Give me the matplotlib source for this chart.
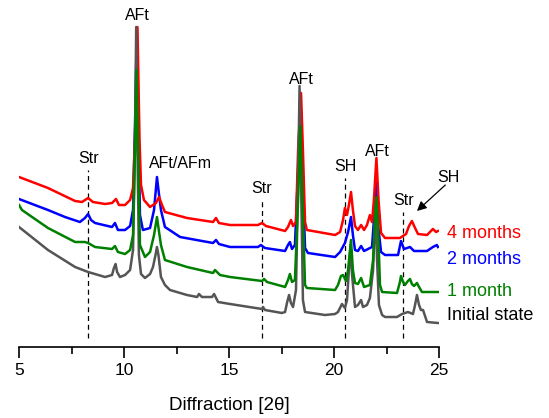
import matplotlib
matplotlib.use("Agg")
import matplotlib.pyplot as plt

plt.rcParams['font.family'] = ['Liberation Sans', 'DejaVu Sans']

# 4 months (red)
red_tt = [5.00, 6.38, 7.67, 8.00, 8.29, 8.52, 9.10, 9.43, 9.62, 9.76, 10.05, 10.29, 10.43, 10.52,
          10.64, 10.74, 10.81, 10.95, 11.24, 11.52, 11.67, 11.81, 11.95, 13.00, 14.24, 14.38, 14.52,
          15.05, 16.38, 16.57, 16.76, 17.67, 17.81, 17.95, 18.05, 18.19, 18.29, 18.43, 18.52, 18.62,
          18.71, 20.05, 20.29, 20.43, 20.52, 20.62, 20.71, 20.81, 20.90, 21.00, 21.14, 21.29, 21.43,
          21.57, 21.71, 21.81, 21.90, 22.02, 22.12, 22.24, 22.43, 23.14, 23.43, 23.57, 23.71, 23.86,
          24.00, 24.43, 24.71, 24.86, 24.95]
red_int = [170, 159, 146, 145, 149, 145, 143, 144, 148, 142, 142, 147, 159, 207,
           320, 207, 162, 147, 140, 144, 150, 142, 135, 129, 125, 129, 124,
           122, 122, 124, 121, 116, 120, 127, 121, 125, 197, 254, 197, 125,
           117, 112, 115, 127, 139, 132, 142, 155, 137, 121, 117, 122, 117,
           122, 132, 125, 147, 189, 147, 114, 109, 109, 113, 121, 126, 119,
           113, 112, 118, 115, 116]

# 2 months (blue)
blue_tt = [5.00, 6.38, 7.19, 7.90, 8.14, 8.29, 8.43, 8.62, 9.43, 9.57, 9.71, 10.05, 10.29, 10.43,
           10.52, 10.61, 10.69, 10.76, 10.90, 11.24, 11.43, 11.57, 11.67, 11.76, 11.95, 12.67, 14.24,
           14.38, 14.52, 15.05, 16.38, 16.52, 16.71, 17.67, 17.81, 17.90, 18.00, 18.14, 18.29, 18.40,
           18.50, 18.62, 18.76, 20.05, 20.29, 20.52, 20.67, 20.81, 20.90, 21.00, 21.14, 21.29, 21.43,
           21.81, 21.90, 22.00, 22.10, 22.24, 22.43, 23.05, 23.19, 23.33, 23.48, 23.62, 23.81, 24.43,
           24.71, 24.90, 24.95]
blue_int = [148, 137, 130, 125, 129, 133, 127, 124, 120, 124, 117, 117, 121, 137,
            217, 317, 217, 132, 117, 119, 137, 170, 152, 137, 120, 110, 104,
            107, 103, 100, 100, 102, 99, 96, 102, 105, 98, 102, 177, 252,
            177, 99, 94, 90, 95, 104, 115, 130, 112, 97, 96, 101, 96,
            100, 127, 164, 122, 95, 92, 92, 106, 98, 99, 100, 96, 96,
            100, 102, 100]

# 1 month (green)
green_tt = [5.00, 5.14, 6.38, 7.67, 8.14, 8.29, 8.62, 9.43, 9.57, 9.71, 10.05, 10.29, 10.43, 10.52,
            10.60, 10.67, 10.76, 11.00, 11.24, 11.43, 11.57, 11.67, 11.76, 11.95, 13.00, 14.24, 14.33,
            14.57, 15.05, 16.57, 16.67, 16.81, 17.67, 17.81, 17.90, 18.00, 18.14, 18.29, 18.40, 18.50,
            18.62, 18.71, 20.05, 20.19, 20.33, 20.43, 20.57, 20.67, 20.81, 20.90, 21.00, 21.14, 21.29,
            21.43, 21.71, 21.86, 21.95, 22.02, 22.10, 22.19, 22.29, 23.00, 23.14, 23.19, 23.29, 23.38,
            23.52, 23.62, 23.71, 23.81, 23.95, 24.05, 24.19, 24.95]
green_int = [142, 137, 119, 105, 105, 104, 100, 98, 101, 95, 93, 97, 112, 197,
             277, 197, 102, 90, 95, 112, 130, 115, 102, 87, 80, 74, 77,
             72, 70, 66, 68, 65, 60, 67, 73, 65, 67, 147, 221, 147,
             62, 59, 57, 62, 71, 72, 66, 77, 107, 77, 64, 63, 69,
             60, 62, 87, 127, 150, 117, 62, 55, 54, 65, 71, 65, 62,
             66, 68, 63, 61, 64, 60, 55, 55]

# Initial state (grey)
grey_tt = [5.00, 6.38, 7.67, 8.29, 9.10, 9.43, 9.52, 9.60, 9.67, 9.81, 10.05, 10.29, 10.43, 10.52,
           10.58, 10.64, 10.71, 10.81, 11.00, 11.24, 11.38, 11.50, 11.57, 11.64, 11.76, 11.95, 12.19,
           13.00, 13.48, 13.57, 13.71, 14.19, 14.29, 14.48, 15.05, 16.57, 16.62, 16.71, 17.52, 17.67,
           17.76, 17.86, 17.95, 18.05, 18.19, 18.29, 18.36, 18.43, 18.52, 18.62, 19.57, 20.05, 20.19,
           20.38, 20.52, 20.62, 20.71, 20.79, 20.86, 21.00, 21.14, 21.29, 21.38, 21.57, 21.71, 21.86,
           21.98, 22.05, 22.14, 22.29, 22.43, 23.00, 23.24, 23.52, 23.76, 23.86, 23.95, 24.05, 24.14,
           24.24, 24.43, 24.95]
grey_int = [120, 97, 80, 75, 70, 72, 79, 83, 75, 70, 72, 77, 97, 197,
            320, 197, 92, 73, 69, 73, 80, 92, 100, 92, 70, 62, 57,
            52, 50, 53, 50, 50, 53, 45, 43, 38, 40, 37, 34, 35,
            44, 52, 44, 40, 57, 167, 261, 167, 47, 35, 32, 33, 35,
            43, 39, 47, 77, 102, 72, 40, 42, 47, 40, 42, 49, 77,
            142, 87, 42, 32, 30, 30, 33, 35, 33, 42, 52, 42, 37,
            37, 25, 24]

series_labels = ['4 months', '2 months', '1 month', 'Initial state']
series_colors = ['#ff0000', '#0000ff', '#008000', 'black']
label_y = [114, 88, 56, 32]

# peak markers: (2theta, top of dashed line, label)
marker_tt = [8.29, 16.57, 20.52, 23.29]
marker_top = [177, 147, 169, 135]
marker_text = ['Str', 'Str', 'SH', 'Str']

peak_labels = ['AFt', 'AFt/AFm', 'AFt', 'AFt']
peak_tt = [10.62, 12.67, 18.43, 22.05]
peak_y = [332, 184, 268, 196]

fig = plt.figure(figsize=(5.49, 4.18), dpi=100)
ax = fig.add_axes([19 / 549, 71 / 418, 420 / 549, 340 / 418])

ax.plot(blue_tt, blue_int, color='#0000ff', lw=1.8, zorder=2)
ax.plot(red_tt, red_int, color='#ff0000', lw=1.8, zorder=3)
ax.plot(grey_tt, grey_int, color='#555555', lw=1.8, zorder=4)
ax.plot(green_tt, green_int, color='#008000', lw=1.8, zorder=5)

for x, top, t in zip(marker_tt, marker_top, marker_text):
    ax.plot([x, x], [9, top], ls=(0, (4, 3)), color='black', lw=0.9, zorder=1)
    ax.text(x, top + 4, t, ha='center', va='bottom', fontsize=11.5)

for x, y, t in zip(peak_tt, peak_y, peak_labels):
    ax.text(x, y, t, ha='center', va='center', fontsize=11.5)

# SH arrow at 23.9
ax.text(25.45, 169, 'SH', ha='center', va='center', fontsize=11.5, clip_on=False)
ax.annotate('', xy=(23.95, 136), xytext=(25.3, 162), annotation_clip=False,
            arrowprops=dict(arrowstyle='-|>', color='black', lw=0.9, mutation_scale=14,
                            shrinkA=0, shrinkB=0))

for t, c, y in zip(series_labels, series_colors, label_y):
    ax.text(25.38, y, t, color=c, ha='left', va='center', fontsize=13, clip_on=False)

ax.set_xlim(5, 25)
ax.set_ylim(0, 340)
ax.set_xticks([5, 10, 15, 20, 25])
ax.set_xticks([7.5, 12.5, 17.5, 22.5], minor=True)
ax.tick_params(axis='x', which='major', length=8, width=1.2, labelsize=12.5, direction='out')
ax.tick_params(axis='x', which='minor', length=5, width=1.2, direction='out')
ax.set_yticks([])
for s in ['top', 'right', 'left']:
    ax.spines[s].set_visible(False)
ax.spines['bottom'].set_linewidth(1.2)
ax.set_xlabel('Diffraction [2\u03b8]', fontsize=13.5, labelpad=14)

fig.savefig('out.png', dpi=100)
